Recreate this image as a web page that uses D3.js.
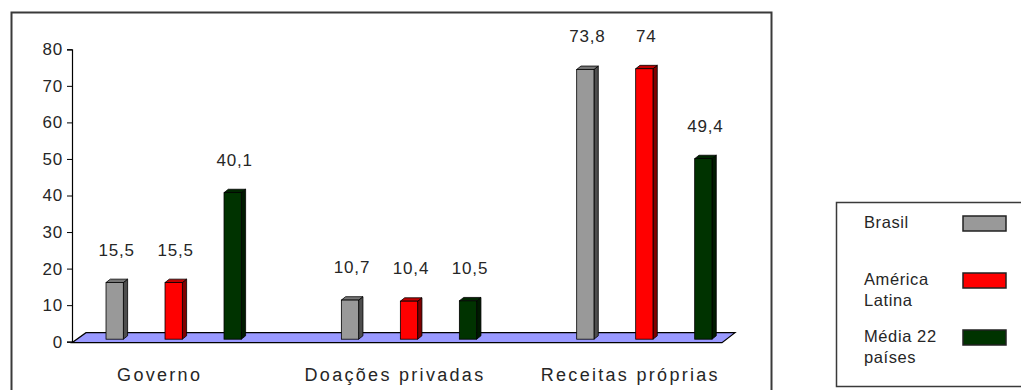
<!DOCTYPE html>
<html>
<head>
<meta charset="utf-8">
<script src="https://cdn.jsdelivr.net/npm/d3@7"></script>
<style>
  body { margin: 0; background: #fff; }
  svg { display: block; font-family: "Liberation Sans", Arial, sans-serif; }
</style>
</head>
<body>
<div id="chart"></div>
<script>
// data
const categories = ["Governo", "Doações privadas", "Receitas próprias"];
const series = ["Brasil", "América Latina", "Média 22 países"];
const brasil = [15.5, 10.7, 73.8];
const americaLatina = [15.5, 10.4, 74];
const media22 = [40.1, 10.5, 49.4];
const valueLabels = [
  ["15,5", "10,7", "73,8"],
  ["15,5", "10,4", "74"],
  ["40,1", "10,5", "49,4"],
];
const legendLines = [["Brasil"], ["América", "Latina"], ["Média 22", "países"]];
const yTicks = [0, 10, 20, 30, 40, 50, 60, 70, 80];

const values = [brasil, americaLatina, media22];

const width = 1021,
  height = 390;
const colors = [
  { front: "#999999", side: "#4d4d4d", top: "#777777" },
  { front: "#ff0000", side: "#800000", top: "#c00000" },
  { front: "#003300", side: "#001a00", top: "#002600" },
];
const depth = { dx: 4.3, dy: -3.4 };
const barWidth = 17.3;
const textColor = "#262626";

const svg = d3
  .select("#chart")
  .append("svg")
  .attr("width", width)
  .attr("height", height);

// outer chart frame
svg
  .append("rect")
  .attr("x", 11.5)
  .attr("y", 12.5)
  .attr("width", 760)
  .attr("height", 400)
  .attr("fill", "none")
  .attr("stroke", "#3a3a3a")
  .attr("stroke-width", 2);

const yScale = d3.scaleLinear().domain([0, 80]).range([341.7, 49.3]);
const x0 = d3.scaleBand().domain(categories).range([56, 762]);
const x1 = d3.scalePoint().domain(series).range([-59, 59]);
const groupCenter = (c) => x0(c) + x0.bandwidth() / 2;

// 3d floor
const y0 = yScale(0);
const floor = d3.path();
floor.moveTo(72, y0 + 1);
floor.lineTo(722, y0 + 1);
floor.lineTo(735, y0 - 9);
floor.lineTo(86, y0 - 9);
floor.closePath();
svg
  .append("path")
  .attr("d", floor.toString())
  .attr("fill", "#9999ff")
  .attr("stroke", "#000")
  .attr("stroke-width", 1.2);

// y axis
const yAxis = svg
  .append("g")
  .attr("transform", "translate(72,0)")
  .call(d3.axisLeft(yScale).tickValues(yTicks).tickSize(5).tickPadding(4).tickFormat(d3.format("d")));
yAxis.select(".domain").attr("stroke", "#000").attr("stroke-width", 1.2);
yAxis.selectAll(".tick line").attr("stroke", "#000");
yAxis
  .selectAll("text")
  .attr("font-size", 17)
  .attr("fill", textColor)
  .attr("letter-spacing", "0.8px")
  .attr("font-family", "Liberation Sans, Arial, sans-serif");

// bars
const base = -2.5; // bars stand in the middle of the floor depth
const bars = [];
series.forEach((s, si) => {
  categories.forEach((c, ci) => {
    bars.push({ s, si, c, ci, v: values[si][ci], label: valueLabels[si][ci] });
  });
});

const g = svg.append("g").attr("class", "bars");
const bar = g.selectAll("g").data(bars).join("g");

bar.each(function (d) {
  const el = d3.select(this);
  const xl = groupCenter(d.c) + x1(d.s) - barWidth / 2;
  const xr = xl + barWidth;
  const yt = yScale(d.v) + base;
  const yb = yScale(0) + base;
  const col = colors[d.si];
  // side
  el.append("path")
    .attr("d", `M${xr},${yb}L${xr + depth.dx},${yb + depth.dy}L${xr + depth.dx},${yt + depth.dy}L${xr},${yt}Z`)
    .attr("fill", col.side)
    .attr("stroke", "#000")
    .attr("stroke-width", 0.8);
  // top
  el.append("path")
    .attr("d", `M${xl},${yt}L${xl + depth.dx},${yt + depth.dy}L${xr + depth.dx},${yt + depth.dy}L${xr},${yt}Z`)
    .attr("fill", col.top)
    .attr("stroke", "#000")
    .attr("stroke-width", 0.8);
  // front
  el.append("rect")
    .attr("x", xl)
    .attr("y", yt)
    .attr("width", barWidth)
    .attr("height", yb - yt)
    .attr("fill", col.front)
    .attr("stroke", "#000")
    .attr("stroke-width", 0.8);
  // value label
  el.append("text")
    .attr("x", xl + barWidth / 2 + 2)
    .attr("y", yt - 27)
    .attr("text-anchor", "middle")
    .attr("font-size", 17)
    .attr("letter-spacing", "0.8px")
    .attr("fill", textColor)
    .text(d.label);
});

// category labels
svg
  .append("g")
  .selectAll("text")
  .data(categories)
  .join("text")
  .attr("x", (c) => groupCenter(c) - 14)
  .attr("y", 381)
  .attr("text-anchor", "middle")
  .attr("font-size", 18)
  .attr("letter-spacing", "2.3px")
  .attr("fill", textColor)
  .text((c) => c);

// legend
const legend = svg.append("g").attr("class", "legend");
legend
  .append("rect")
  .attr("x", 836.5)
  .attr("y", 202.5)
  .attr("width", 200)
  .attr("height", 184)
  .attr("fill", "#fff")
  .attr("stroke", "#3a3a3a")
  .attr("stroke-width", 1.5);

const legendY = d3.scalePoint().domain(series).range([224, 338]);
const item = legend.selectAll("g.item").data(series).join("g").attr("class", "item");
item
  .append("text")
  .attr("x", 864)
  .attr("y", (s) => legendY(s) + 4)
  .attr("font-size", 16.5)
  .attr("letter-spacing", "0.6px")
  .attr("fill", textColor)
  .selectAll("tspan")
  .data((s, i) => legendLines[i])
  .join("tspan")
  .attr("x", 864)
  .attr("dy", (t, j) => (j === 0 ? 0 : 21))
  .text((t) => t);
item
  .append("rect")
  .attr("x", 963)
  .attr("y", (s) => legendY(s) - 8)
  .attr("width", 43)
  .attr("height", 15)
  .attr("fill", (s, i) => colors[i].front)
  .attr("stroke", "#222")
  .attr("stroke-width", 1.5);
</script>
</body>
</html>
